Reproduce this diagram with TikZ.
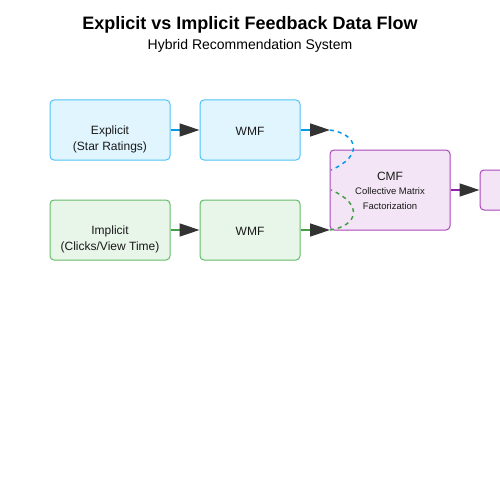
\documentclass[tikz,border=0pt]{standalone}
\usepackage{fontspec}
\setmainfont{Liberation Sans}
\usetikzlibrary{arrows.meta}
\definecolor{bfill}{HTML}{E1F5FE}
\definecolor{bdraw}{HTML}{4FC3F7}
\definecolor{bline}{HTML}{039BE5}
\definecolor{gfill}{HTML}{E8F5E9}
\definecolor{gdraw}{HTML}{66BB6A}
\definecolor{gline}{HTML}{43A047}
\definecolor{pfill}{HTML}{F3E5F5}
\definecolor{pdraw}{HTML}{AB47BC}
\definecolor{pline}{HTML}{8E24AA}
\definecolor{headc}{HTML}{333333}
\tikzset{
  x=1pt, y=-1pt,
  box/.style={draw, rounded corners=4pt, line width=1pt, inner sep=0pt},
  bluebox/.style={box, draw=bdraw, fill=bfill},
  greenbox/.style={box, draw=gdraw, fill=gfill},
  purplebox/.style={box, draw=pdraw, fill=pfill},
  txt/.style={font=\fontsize{12}{16}\selectfont, align=center, text=black!90, inner sep=0pt},
  flow/.style={line width=1.5pt, -{Triangle[length=20pt,width=13pt,color=headc]}},
  merge/.style={line width=1.5pt, dash pattern=on 4pt off 4pt}
}
\begin{document}
\begin{tikzpicture}
\useasboundingbox[fill=white] (0,0) rectangle (500,500);
\node[font=\bfseries\fontsize{18}{22}\selectfont] (title) at (250,24.5) {Explicit vs Implicit Feedback Data Flow};
\node[font=\fontsize{14}{17}\selectfont] (sub) at (250,45.5) {Hybrid Recommendation System};

\node[bluebox, minimum width=120pt, minimum height=60pt] (exp) at (110,130) {};
\node[txt] (expt) at (110,139) {Explicit\\(Star Ratings)};
\node[bluebox, minimum width=100pt, minimum height=60pt] (w1) at (250,130) {};
\node[txt] (w1t) at (250,131) {WMF};

\node[greenbox, minimum width=120pt, minimum height=60pt] (imp) at (110,230) {};
\node[txt] (impt) at (110,239) {Implicit\\(Clicks/View Time)};
\node[greenbox, minimum width=100pt, minimum height=60pt] (w2) at (250,230) {};
\node[txt] (w2t) at (250,231) {WMF};

\node[purplebox, minimum width=120pt, minimum height=80pt] (cmf) at (390,190) {};
\node[txt] (cmft) at (390,176.5) {CMF};
\node[txt, font=\fontsize{9.5}{15}\selectfont] (cmfs) at (390,199) {Collective Matrix\\Factorization};

\node[purplebox, minimum width=120pt, minimum height=40pt] (out) at (540,190) {};

\coordinate (j1) at (330,130);
\coordinate (j2) at (330,230);
\coordinate (c1) at (331,170);
\coordinate (c2) at (331,190);

\draw[flow, bline] (exp.east) -- (w1.west);
\draw[flow, bline] (w1.east) -- (j1);
\draw[flow, gline] (imp.east) -- (w2.west);
\draw[flow, gline] (w2.east) -- (j2);
\draw[merge, bline] (j1) .. controls (358,134) and (364,156) .. (c1);
\draw[merge, gline] (j2) .. controls (358,226) and (364,204) .. (c2);
\draw[flow, pline] (cmf.east) -- (out.west);
\end{tikzpicture}
\end{document}
